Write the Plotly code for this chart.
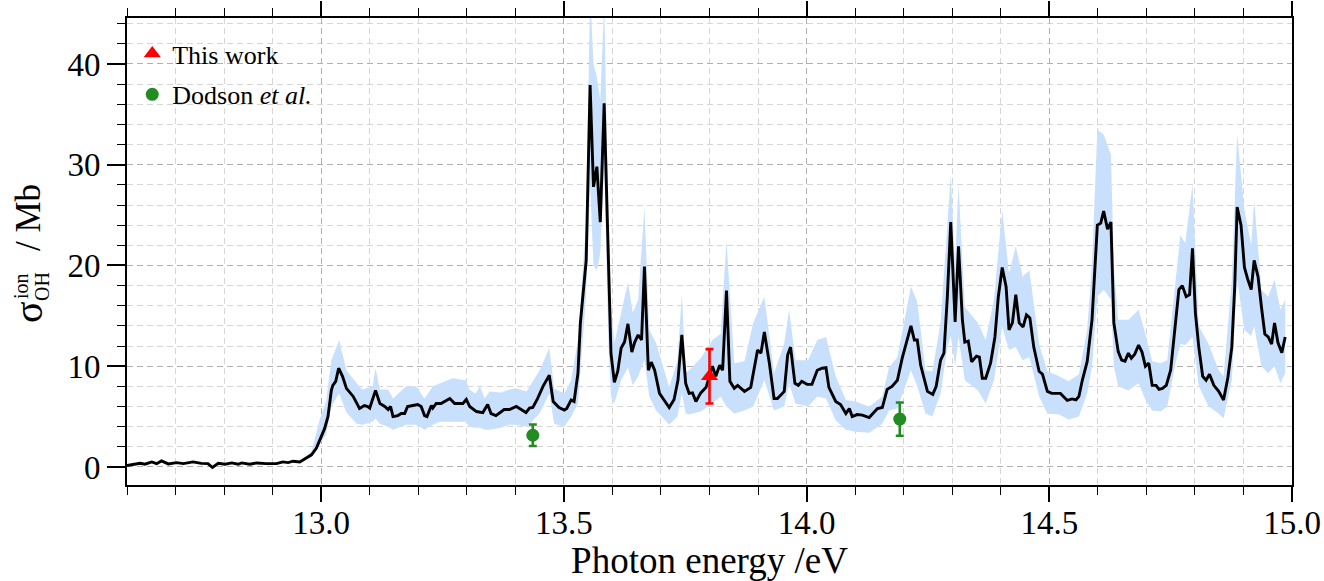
import plotly.graph_objects as go

# ---------------- data ----------------
energy = [12.600, 12.614, 12.627, 12.637, 12.651, 12.661, 12.671, 12.685, 12.702, 12.716,
          12.736, 12.753, 12.767, 12.776, 12.788, 12.802, 12.816, 12.829, 12.836, 12.853,
          12.867, 12.887, 12.908, 12.921, 12.932, 12.942, 12.956, 12.966, 12.980, 12.990,
          12.997, 13.007, 13.014, 13.021, 13.024, 13.030, 13.036, 13.044, 13.052, 13.066,
          13.079, 13.089, 13.096, 13.100, 13.112, 13.121, 13.131, 13.138, 13.143, 13.148,
          13.158, 13.165, 13.172, 13.178, 13.189, 13.199, 13.206, 13.213, 13.218, 13.227,
          13.230, 13.237, 13.247, 13.265, 13.275, 13.292, 13.299, 13.306, 13.320, 13.333,
          13.343, 13.350, 13.360, 13.377, 13.388, 13.402, 13.412, 13.422, 13.429, 13.436,
          13.446, 13.457, 13.470, 13.478, 13.490, 13.501, 13.506, 13.515, 13.521, 13.529,
          13.534, 13.546, 13.554, 13.561, 13.568, 13.575, 13.583, 13.592, 13.597, 13.604,
          13.611, 13.618, 13.625, 13.632, 13.640, 13.646, 13.653, 13.660, 13.666, 13.674,
          13.680, 13.687, 13.697, 13.707, 13.717, 13.727, 13.735, 13.743, 13.751, 13.758,
          13.765, 13.772, 13.782, 13.793, 13.806, 13.813, 13.821, 13.827, 13.835, 13.842,
          13.851, 13.858, 13.872, 13.885, 13.899, 13.906, 13.913, 13.923, 13.933, 13.940,
          13.954, 13.961, 13.967, 13.976, 13.983, 13.990, 14.001, 14.011, 14.022, 14.032,
          14.040, 14.046, 14.060, 14.070, 14.081, 14.088, 14.094, 14.104, 14.115, 14.129,
          14.136, 14.146, 14.156, 14.166, 14.176, 14.187, 14.197, 14.208, 14.215, 14.222,
          14.228, 14.235, 14.249, 14.260, 14.267, 14.276, 14.283, 14.290, 14.297, 14.306,
          14.313, 14.321, 14.326, 14.333, 14.340, 14.350, 14.356, 14.362, 14.369, 14.379,
          14.388, 14.395, 14.403, 14.411, 14.417, 14.424, 14.431, 14.438, 14.446, 14.453,
          14.460, 14.468, 14.479, 14.486, 14.496, 14.505, 14.523, 14.537, 14.547, 14.555,
          14.561, 14.568, 14.578, 14.588, 14.599, 14.606, 14.612, 14.620, 14.627, 14.633,
          14.642, 14.649, 14.656, 14.663, 14.669, 14.676, 14.684, 14.691, 14.698, 14.705,
          14.712, 14.720, 14.726, 14.733, 14.741, 14.750, 14.759, 14.767, 14.774, 14.782,
          14.789, 14.795, 14.801, 14.808, 14.816, 14.823, 14.830, 14.839, 14.849, 14.859,
          14.868, 14.876, 14.882, 14.887, 14.895, 14.902, 14.909, 14.916, 14.922, 14.930,
          14.937, 14.944, 14.951, 14.958, 14.964, 14.971, 14.979, 14.986]

sigma = [0.15, 0.25, 0.37, 0.27, 0.50, 0.33, 0.60, 0.30, 0.43, 0.33,
         0.50, 0.36, 0.33, -0.05, 0.36, 0.27, 0.40, 0.27, 0.40, 0.27,
         0.40, 0.33, 0.33, 0.50, 0.43, 0.57, 0.50, 0.80, 1.20, 1.85,
         2.70, 3.80, 5.00, 7.60, 8.10, 8.50, 9.80, 9.00, 7.80, 7.00,
         5.80, 6.10, 6.00, 5.85, 7.60, 6.30, 6.00, 5.70, 6.00, 5.00,
         5.10, 5.30, 5.30, 6.00, 6.10, 6.20, 6.00, 5.10, 5.00, 6.10,
         5.85, 6.30, 6.30, 6.80, 6.30, 6.30, 6.70, 6.00, 5.50, 5.40,
         6.20, 5.30, 5.10, 5.70, 5.70, 6.00, 5.70, 5.40, 5.85, 5.90,
         6.80, 8.00, 9.10, 6.50, 5.90, 5.65, 5.80, 6.65, 6.50, 9.30,
         14.3, 20.5, 37.9, 27.8, 29.8, 24.3, 36.1, 18.9, 11.3, 8.40,
         9.50, 11.8, 12.4, 14.2, 11.4, 12.4, 13.1, 12.6, 19.9, 9.60,
         10.4, 9.60, 7.30, 6.60, 5.90, 6.70, 8.60, 13.1, 8.30, 7.30,
         7.35, 6.50, 7.35, 7.90, 10.0, 9.00, 10.1, 9.60, 17.5, 8.50,
         7.80, 8.10, 7.50, 7.90, 11.6, 11.3, 13.4, 10.4, 6.80, 6.80,
         7.50, 11.1, 11.9, 8.30, 8.10, 8.50, 8.20, 8.20, 9.60, 9.80,
         9.85, 7.90, 6.50, 6.20, 5.30, 5.80, 5.00, 5.20, 5.15, 4.90,
         5.30, 5.80, 5.90, 7.70, 8.00, 8.60, 10.8, 12.9, 14.0, 12.6,
         12.6, 10.1, 7.50, 7.20, 8.00, 10.6, 11.3, 16.9, 24.3, 14.4,
         21.9, 14.6, 12.4, 12.5, 10.45, 11.0, 10.9, 8.80, 8.80, 10.3,
         12.9, 16.9, 19.8, 17.9, 13.6, 14.3, 17.1, 14.3, 13.9, 15.1,
         14.8, 11.9, 9.50, 9.20, 7.50, 7.30, 7.30, 6.60, 6.75, 6.65,
         7.00, 8.60, 10.45, 14.6, 24.0, 24.2, 25.4, 23.6, 24.3, 14.3,
         11.45, 10.6, 10.5, 11.3, 10.8, 11.2, 12.1, 11.4, 10.0, 10.3,
         8.10, 8.10, 7.70, 7.80, 8.10, 9.60, 13.9, 17.6, 18.0, 16.9,
         17.1, 21.7, 15.3, 11.9, 9.00, 8.60, 9.20, 8.10, 7.50, 6.65,
         8.90, 11.9, 17.9, 25.8, 24.0, 19.8, 18.6, 17.6, 20.5, 18.9,
         15.9, 13.2, 12.9, 12.2, 14.3, 12.35, 11.35, 12.9]

band_energy = [12.966, 12.980, 12.997, 13.010, 13.021, 13.037, 13.052, 13.073, 13.085, 13.106,
               13.112, 13.121, 13.138, 13.148, 13.175, 13.195, 13.213, 13.230, 13.245, 13.271,
               13.298, 13.305, 13.318, 13.327, 13.337, 13.347, 13.370, 13.388, 13.402, 13.423,
               13.450, 13.470, 13.480, 13.501, 13.515, 13.529, 13.546, 13.554, 13.561, 13.568,
               13.575, 13.583, 13.592, 13.597, 13.604, 13.618, 13.632, 13.642, 13.653, 13.666,
               13.676, 13.690, 13.717, 13.734, 13.743, 13.751, 13.758, 13.782, 13.806, 13.823,
               13.835, 13.851, 13.872, 13.890, 13.913, 13.933, 13.954, 13.964, 13.977, 14.003,
               14.022, 14.040, 14.060, 14.081, 14.101, 14.129, 14.156, 14.170, 14.187, 14.215,
               14.228, 14.245, 14.259, 14.276, 14.290, 14.297, 14.306, 14.313, 14.326, 14.353,
               14.369, 14.386, 14.403, 14.417, 14.431, 14.445, 14.459, 14.479, 14.496, 14.520,
               14.540, 14.561, 14.578, 14.588, 14.599, 14.612, 14.627, 14.633, 14.642, 14.663,
               14.684, 14.698, 14.712, 14.729, 14.743, 14.760, 14.770, 14.780, 14.795, 14.808,
               14.828, 14.849, 14.859, 14.876, 14.887, 14.902, 14.916, 14.922, 14.937, 14.951,
               14.964, 14.976, 14.986]

band_upper = [0.9, 1.5, 4.7, 6.5, 10.6, 12.6, 9.6, 8.3, 7.7, 8.0,
              9.8, 7.7, 7.7, 6.8, 8.0, 8.0, 6.8, 8.0, 8.3, 8.8,
              8.6, 7.7, 7.3, 8.0, 6.8, 7.5, 7.4, 7.7, 7.8, 7.5,
              9.6, 11.8, 7.8, 7.3, 8.6, 12.6, 24.5, 47.0, 40.0, 38.7,
              36.4, 46.0, 24.0, 16.0, 12.3, 15.3, 18.3, 15.3, 16.6, 25.8,
              13.6, 12.3, 7.9, 10.6, 17.2, 9.4, 9.6, 10.8, 12.6, 13.2,
              22.5, 10.3, 10.5, 14.3, 16.9, 9.3, 12.3, 15.6, 10.6, 10.6,
              12.6, 12.9, 9.0, 6.65, 6.5, 6.0, 7.0, 9.9, 10.9, 17.9,
              16.4, 9.6, 9.5, 14.3, 23.5, 29.0, 20.0, 28.0, 15.9, 14.3,
              12.6, 16.6, 25.5, 19.2, 21.9, 18.9, 19.5, 12.2, 9.5, 9.0,
              8.5, 9.2, 13.6, 20.2, 33.5, 33.0, 31.0, 19.9, 14.6, 14.6,
              15.6, 13.2, 10.5, 10.3, 10.6, 18.6, 23.0, 22.2, 28.0, 14.0,
              12.2, 9.6, 9.0, 18.6, 33.0, 25.5, 22.0, 26.5, 17.6, 16.9,
              18.6, 15.6, 16.6]

band_lower = [0.7, 1.0, 2.2, 3.2, 6.0, 7.3, 5.4, 4.3, 4.2, 4.5,
              4.8, 4.3, 4.0, 3.7, 4.2, 4.2, 3.7, 4.2, 4.5, 4.5,
              4.5, 4.0, 3.9, 3.9, 3.7, 3.7, 3.9, 4.2, 4.2, 4.0,
              5.3, 7.3, 4.3, 4.0, 5.0, 6.3, 17.2, 28.0, 20.0, 19.5,
              21.2, 29.8, 12.0, 7.0, 6.3, 8.6, 9.9, 8.1, 9.0, 10.6,
              7.0, 5.6, 4.2, 5.0, 7.3, 5.3, 5.2, 5.5, 6.3, 7.0,
              6.0, 5.3, 5.6, 6.0, 8.6, 5.6, 6.0, 8.3, 6.3, 6.0,
              7.0, 6.8, 4.6, 3.7, 3.5, 3.4, 4.3, 5.6, 5.8, 9.6,
              8.0, 5.3, 5.0, 7.3, 11.9, 13.0, 10.0, 12.9, 8.6, 7.6,
              6.3, 8.6, 13.9, 11.6, 11.9, 10.6, 10.9, 7.0, 5.3, 5.2,
              4.7, 5.0, 7.3, 10.0, 16.9, 17.6, 16.6, 10.0, 8.0, 7.6,
              8.3, 6.65, 5.6, 5.5, 6.0, 10.3, 12.2, 12.1, 12.9, 8.0,
              6.0, 5.3, 4.8, 8.6, 18.6, 13.6, 13.0, 14.0, 10.0, 9.3,
              10.0, 8.3, 9.3]

this_work_energy = [13.80]
this_work_sigma = [9.0]
this_work_err = [2.7]

dodson_energy = [13.436, 14.192]
dodson_sigma = [3.15, 4.75]
dodson_err = [1.07, 1.65]

x_ticks = [13.0, 13.5, 14.0, 14.5, 15.0]
x_tick_labels = ["13.0", "13.5", "14.0", "14.5", "15.0"]
y_ticks = [0, 10, 20, 30, 40]

# ---------------- figure ----------------
FONT = "Liberation Serif"
fig = go.Figure()

band_x = band_energy + band_energy[::-1]
band_y = band_upper + band_lower[::-1]
fig.add_trace(go.Scatter(x=band_x, y=band_y, fill="toself", mode="lines",
                         line=dict(width=0), fillcolor="#c9e0fd",
                         hoverinfo="skip", showlegend=False))

fig.add_trace(go.Scatter(x=energy, y=sigma, mode="lines",
                         line=dict(color="black", width=2.9), showlegend=False))

fig.add_trace(go.Scatter(x=this_work_energy, y=this_work_sigma, mode="markers",
                         name="This work", legendgroup="a",
                         marker=dict(symbol="triangle-up", size=15, color="#ff0000"),
                         error_y=dict(type="data", array=this_work_err, color="#ff0000",
                                      thickness=2.6, width=4)))

fig.add_trace(go.Scatter(x=dodson_energy, y=dodson_sigma, mode="markers",
                         name="Dodson <i>et al.</i>", legendgroup="b",
                         marker=dict(symbol="circle", size=13, color="#228b22"),
                         error_y=dict(type="data", array=dodson_err, color="#228b22",
                                      thickness=2.6, width=4)))

L, R, T, B = 127, 32, 18, 96
W, H = 1324, 581

fig.update_layout(
    width=W, height=H,
    margin=dict(l=L, r=R, t=T, b=B, autoexpand=False),
    paper_bgcolor="white", plot_bgcolor="white",
    font=dict(family=FONT, color="black", size=28),
    legend=dict(x=0.0045, y=0.974, xanchor="left", yanchor="top",
                bgcolor="rgba(0,0,0,0)", font=dict(size=26, family=FONT),
                itemwidth=30, traceorder="grouped", tracegroupgap=4),
    xaxis=dict(range=[12.6, 15.0], tickmode="array", tickvals=x_ticks,
               ticktext=x_tick_labels, ticks="outside", ticklen=15, tickwidth=1.6,
               tickcolor="black", showline=True, linecolor="black", linewidth=2,
               mirror="ticks", tickfont=dict(size=33, family=FONT), automargin=False,
               ticklabelstandoff=-8,
               showgrid=True, gridcolor="#b0b0b0", gridwidth=1.2, griddash="6px,4px",
               zeroline=False,
               minor=dict(dtick=0.1, tick0=12.6, ticks="outside", ticklen=8,
                          tickwidth=1.4, tickcolor="black", showgrid=True,
                          gridcolor="#d6d6d6", gridwidth=1.2, griddash="6px,4px"),
               title=dict(text="Photon energy /eV", font=dict(size=37, family=FONT),
                          standoff=22)),
    yaxis=dict(range=[-1.79, 44.56], tickmode="array", tickvals=y_ticks,
               ticks="outside", ticklen=18, tickwidth=1.6, tickcolor="black",
               showline=True, linecolor="black", linewidth=2, mirror=True,
               tickfont=dict(size=33, family=FONT), automargin=False,
               showgrid=True, gridcolor="#b0b0b0", gridwidth=1.2, griddash="6px,4px",
               zeroline=False,
               minor=dict(dtick=2, tick0=0, ticks="outside", ticklen=8,
                          tickwidth=1.4, tickcolor="black", showgrid=True,
                          gridcolor="#d6d6d6", gridwidth=1.2, griddash="6px,4px")),
)


def ann(text, px, py, size):
    fig.add_annotation(text=text, xref="paper", yref="paper", x=0, y=0,
                       xshift=px - L, yshift=(H - B) - py, xanchor="center",
                       yanchor="middle", textangle=-90, showarrow=False,
                       font=dict(size=size, family=FONT, color="black"))


ann("σ", 28, 312, 40)
ann("ion", 21, 286, 20)
ann("OH", 42, 287, 20)
ann("/ Mb", 28, 218, 35)

fig.write_html("out.html", config={"displayModeBar": False},
               post_script="document.body.style.margin='0';")
